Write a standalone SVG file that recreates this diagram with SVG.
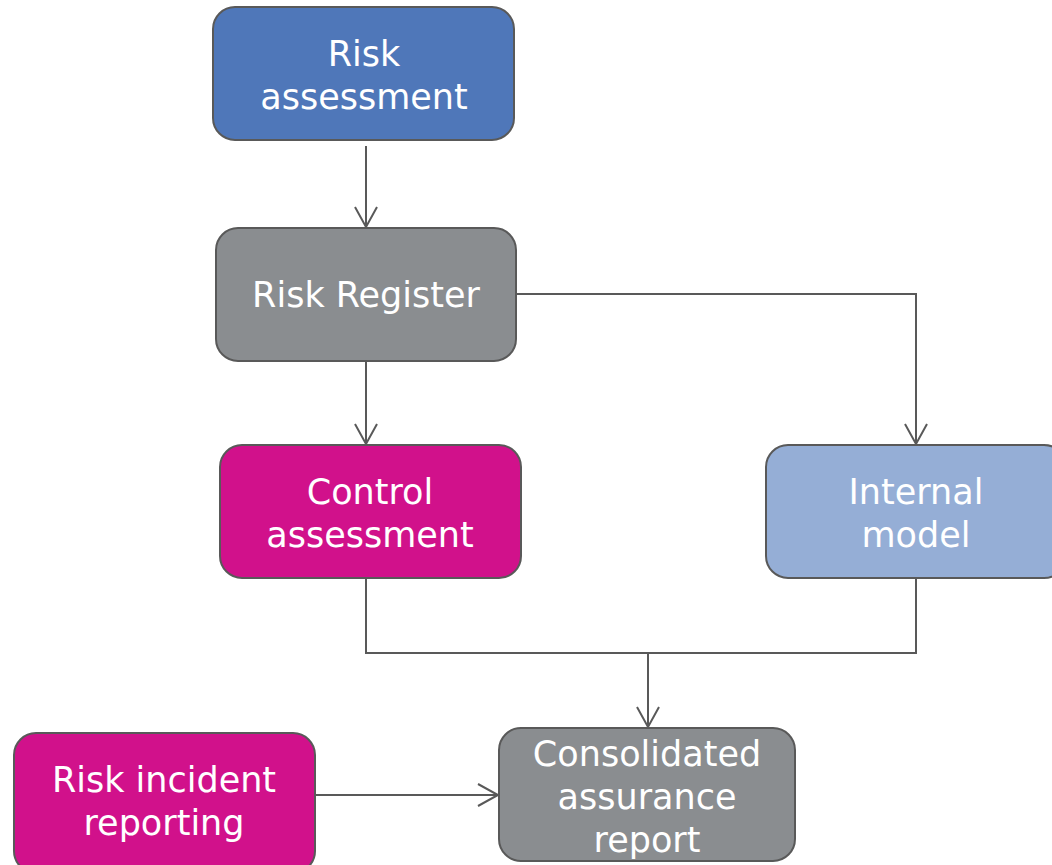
<svg xmlns="http://www.w3.org/2000/svg" width="1052" height="865" viewBox="0 0 1052 865">
<defs>
<style>
.box{stroke:#595959;stroke-width:2}
.t{font-family:"DejaVu Sans",Verdana,sans-serif;font-size:35px;fill:#ffffff;text-anchor:middle}
.c{fill:none;stroke:#595959;stroke-width:2}
</style>
<marker id="arr" markerUnits="userSpaceOnUse" markerWidth="26" markerHeight="26" viewBox="-23 -13 26 26" refX="0" refY="0" orient="auto-start-reverse">
<path d="M-20,-11 L0,0 L-20,11" fill="none" stroke="#595959" stroke-width="2"/>
</marker>
</defs>
<rect width="1052" height="865" fill="#ffffff"/>
<g id="connectors">
<path class="c" d="M366,146 V227" marker-end="url(#arr)"/>
<path class="c" d="M366,361 V444" marker-end="url(#arr)"/>
<path class="c" d="M516,294 H916 V444" marker-end="url(#arr)"/>
<path class="c" d="M366,578 V653 H916 V578"/>
<path class="c" d="M648,653 V727" marker-end="url(#arr)"/>
<path class="c" d="M315,795 H498" marker-end="url(#arr)"/>
</g>
<g id="risk-assessment">
<rect class="box" x="213" y="7" width="301" height="133" rx="22" fill="#4F77B9"/>
<text class="t" x="364" y="66">Risk</text>
<text class="t" x="364" y="109">assessment</text>
</g>
<g id="risk-register">
<rect class="box" x="216" y="228" width="300" height="133" rx="22" fill="#8A8D90"/>
<text class="t" x="366" y="307">Risk Register</text>
</g>
<g id="control-assessment">
<rect class="box" x="220" y="445" width="301" height="133" rx="22" fill="#D1118B"/>
<text class="t" x="370" y="504">Control</text>
<text class="t" x="370" y="547">assessment</text>
</g>
<g id="internal-model">
<rect class="box" x="766" y="445" width="300" height="133" rx="22" fill="#95AED6"/>
<text class="t" x="916" y="504">Internal</text>
<text class="t" x="916" y="547">model</text>
</g>
<g id="risk-incident-reporting">
<rect class="box" x="14" y="733" width="301" height="140" rx="22" fill="#D1118B"/>
<text class="t" x="164" y="792">Risk incident</text>
<text class="t" x="164" y="835">reporting</text>
</g>
<g id="consolidated-assurance-report">
<rect class="box" x="499" y="728" width="296" height="133" rx="22" fill="#8A8D90"/>
<text class="t" x="647" y="766">Consolidated</text>
<text class="t" x="647" y="809">assurance</text>
<text class="t" x="647" y="852">report</text>
</g>
</svg>
